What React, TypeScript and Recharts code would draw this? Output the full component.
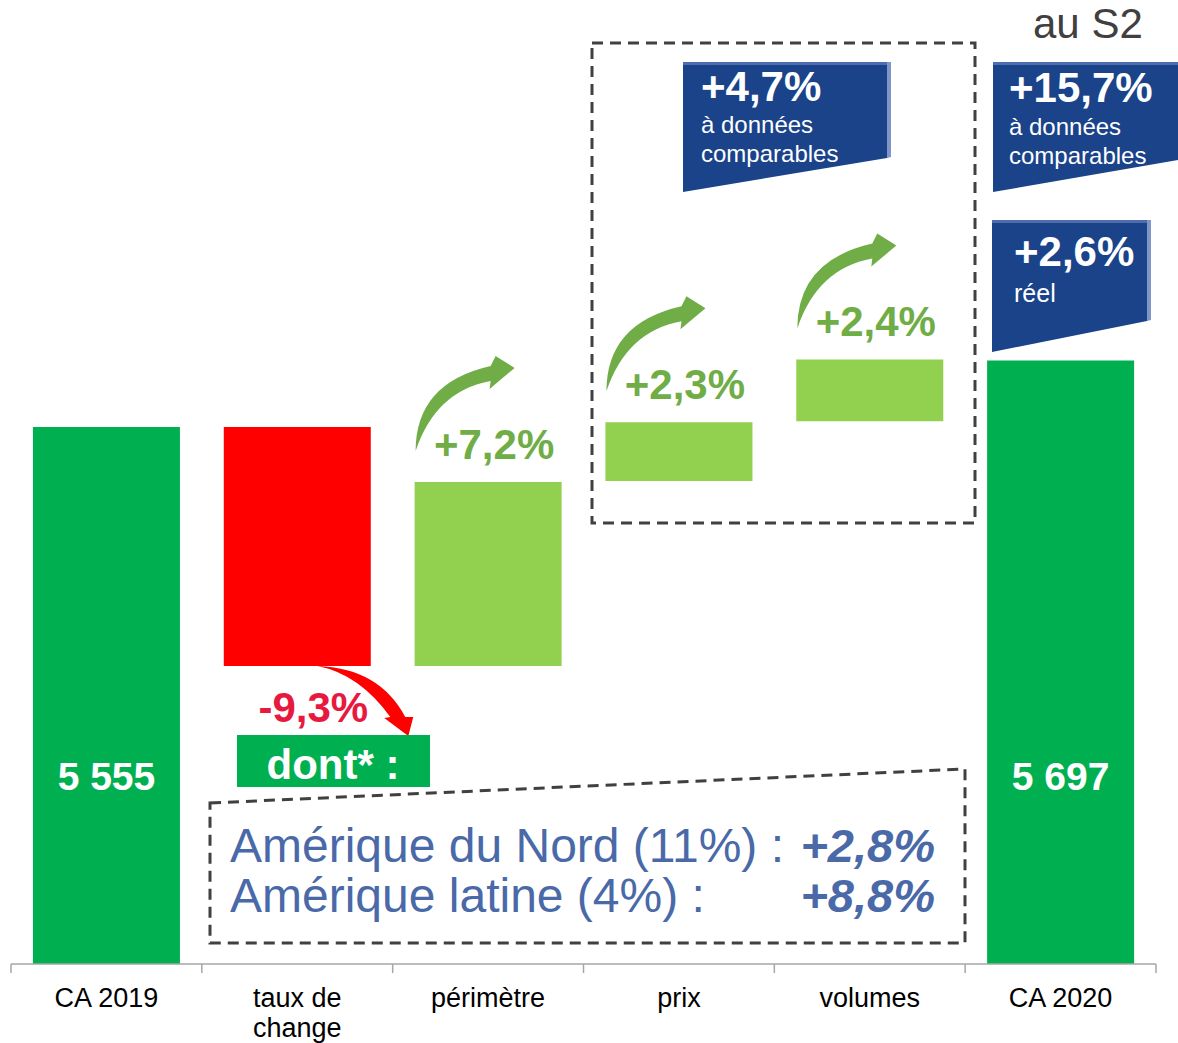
import React from "react";
import { BarChart, Bar, XAxis, YAxis, Cell, LabelList } from "recharts";

const categories = ["CA 2019", "taux de change", "périmètre", "prix", "volumes", "CA 2020"];
// hauteurs des barres telles que dessinées (schéma, unités arbitraires)
const barLow = [0, 309, 309, 501, 563, 0];
const barHigh = [557, 557, 500, 562, 627, 626];
const barLabels = ["5 555", "-9,3%", "+7,2%", "+2,3%", "+2,4%", "5 697"];
const barKinds = ["total", "down", "up", "up", "up", "total"];

const lflHalf = ["+4,7%", "à données", "comparables"];
const lflS2 = ["+15,7%", "à données", "comparables"];
const reported = ["+2,6%", "réel"];
const regions = ["Amérique du Nord (11%) :", "Amérique latine (4%) :"];
const regionGrowth = ["+2,8%", "+8,8%"];

const W = 1178;
const H = 1043;
const M = { top: 0, right: 22, left: 11, bottom: 0 };
const BAND = (W - M.left - M.right) / categories.length;
const FONT = "'Liberation Sans', Arial, sans-serif";

const COLORS: Record<string, string> = {
  total: "#00B050",
  down: "#FF0000",
  up: "#92D050",
};

const data = categories.map((name, i) => ({
  name,
  base: barLow[i],
  delta: barHigh[i] - barLow[i],
}));

const GREEN_ARROW = "M 0 0 Q 0 -68 75 -85 L 80 -95 L 99 -83 L 74 -62 L 75 -70 Q 20 -60 0 0 Z";
const RED_ARROW = "M 0 0 Q 62 2 88 51 L 96 51 L 91 70 L 67 52 L 73 51 Q 42 8 0 0 Z";

function BarLabel(props: any) {
  const x = Number(props.x);
  const y = Number(props.y);
  const w = Number(props.width);
  const h = Number(props.height);
  const i = props.index;
  const kind = barKinds[i];
  const cx = x + w / 2;
  const bottom = y + h;

  if (kind === "total") {
    return (
      <text x={cx} y={bottom - 188} textAnchor="middle" dominantBaseline="central"
        fill="#fff" fontFamily={FONT} fontWeight="bold" fontSize={39}>
        {barLabels[i]}
      </text>
    );
  }
  if (kind === "down") {
    return (
      <g>
        <path d={RED_ARROW} transform={`translate(${cx + 20},${bottom})`} fill="#FF0000" />
        <text x={cx + 16} y={bottom + 41} textAnchor="middle" dominantBaseline="central"
          fill="#E8193F" fontFamily={FONT} fontWeight="bold" fontSize={42}>
          {barLabels[i]}
        </text>
      </g>
    );
  }
  return (
    <g>
      <path d={GREEN_ARROW} transform={`translate(${x + 1},${y - 31})`} fill="#70AD47" />
      <text x={cx + 6} y={y - 38} textAnchor="middle" dominantBaseline="central"
        fill="#70AD47" fontFamily={FONT} fontWeight="bold" fontSize={42}>
        {barLabels[i]}
      </text>
    </g>
  );
}

function AxisTick(props: any) {
  const { x, y, payload, index } = props;
  const value: string = payload.value;
  const words = value.split(" ");
  const lines = value.length > 12 ? [words.slice(0, -1).join(" "), words[words.length - 1]] : [value];
  return (
    <g>
      <line x1={x - BAND / 2} x2={x - BAND / 2} y1={y} y2={y + 9} stroke="#A6A6A6" strokeWidth={1.5} />
      {index === categories.length - 1 && (
        <line x1={x + BAND / 2} x2={x + BAND / 2} y1={y} y2={y + 9} stroke="#A6A6A6" strokeWidth={1.5} />
      )}
      {lines.map((l, k) => (
        <text key={k} x={x} y={y + 43 + k * 30} textAnchor="middle" fill="#000"
          fontFamily={FONT} fontSize={27}>
          {l}
        </text>
      ))}
    </g>
  );
}

function BlueBox({ x, y, w, h, drop, shadow, lines, size, tx, ty1, ty2 }: any) {
  const r = x + w;
  return (
    <g>
      <polygon points={`${x},${y} ${r},${y} ${r},${y + h - drop} ${x},${y + h}`} fill="#1A438A" />
      <rect x={x} y={y} width={w} height={3} fill="#4E6DAE" />
      {shadow && (
        <polygon points={`${r},${y} ${r + 4},${y} ${r + 4},${y + h - drop - 1} ${r},${y + h - drop}`} fill="#7F96C6" />
      )}
      <text x={x + tx} y={y + ty1} fill="#fff" fontFamily={FONT} fontWeight="bold" fontSize={42}>
        {lines[0]}
      </text>
      {lines.slice(1).map((l: string, k: number) => (
        <text key={k} x={x + tx} y={y + ty2 + k * 29} fill="#fff" fontFamily={FONT} fontSize={size}>
          {l}
        </text>
      ))}
    </g>
  );
}

export default function App() {
  return (
    <div style={{ position: "absolute", left: 0, top: 0, width: W, height: H, background: "#fff" }}>
      <BarChart width={W} height={H} data={data} margin={M} barCategoryGap="11.5%">
        <XAxis dataKey="name" height={79} tickSize={0} tickMargin={0} tickLine={false}
          axisLine={{ stroke: "#A6A6A6", strokeWidth: 1.5 }} tick={<AxisTick />} interval={0} />
        <YAxis hide domain={[0, 1000]} />
        <Bar dataKey="base" stackId="w" fill="transparent" isAnimationActive={false} />
        <Bar dataKey="delta" stackId="w" isAnimationActive={false}>
          {data.map((_, i) => (
            <Cell key={i} fill={COLORS[barKinds[i]]} />
          ))}
          <LabelList dataKey="delta" content={<BarLabel />} />
        </Bar>
      </BarChart>

      <svg width={W} height={H} style={{ position: "absolute", left: 0, top: 0, pointerEvents: "none" }}>
        <text x={1033} y={38} fill="#404040" fontFamily={FONT} fontSize={42}>au S2</text>

        <rect x={592} y={43} width={383} height={480} fill="none" stroke="#404040"
          strokeWidth={3} strokeDasharray="11 7" />
        <polygon points="210,803 965,769 965,943 210,943" fill="none" stroke="#404040"
          strokeWidth={3} strokeDasharray="11 7" />

        <BlueBox x={683} y={62} w={204} h={130} drop={34} shadow lines={lflHalf} size={24} tx={18} ty1={39} ty2={71} />
        <BlueBox x={993} y={62} w={185} h={130} drop={32} lines={lflS2} size={24} tx={16} ty1={40} ty2={73} />
        <BlueBox x={992} y={220} w={155} h={132} drop={31} shadow lines={reported} size={25} tx={22} ty1={46} ty2={82} />

        <rect x={237} y={735} width={193} height={52} fill="#00B050" />
        <text x={333} y={779} textAnchor="middle" fill="#fff" fontFamily={FONT} fontWeight="bold" fontSize={42}>
          dont* :
        </text>

        {regions.map((r, k) => (
          <g key={k}>
            <text x={230} y={862 + k * 50} fill="#4A69A8" fontFamily={FONT} fontSize={48}>{r}</text>
            <text x={935} y={862 + k * 50} textAnchor="end" fill="#4A69A8" fontFamily={FONT}
              fontSize={47} fontWeight="bold" fontStyle="italic">
              {regionGrowth[k]}
            </text>
          </g>
        ))}
      </svg>
    </div>
  );
}
